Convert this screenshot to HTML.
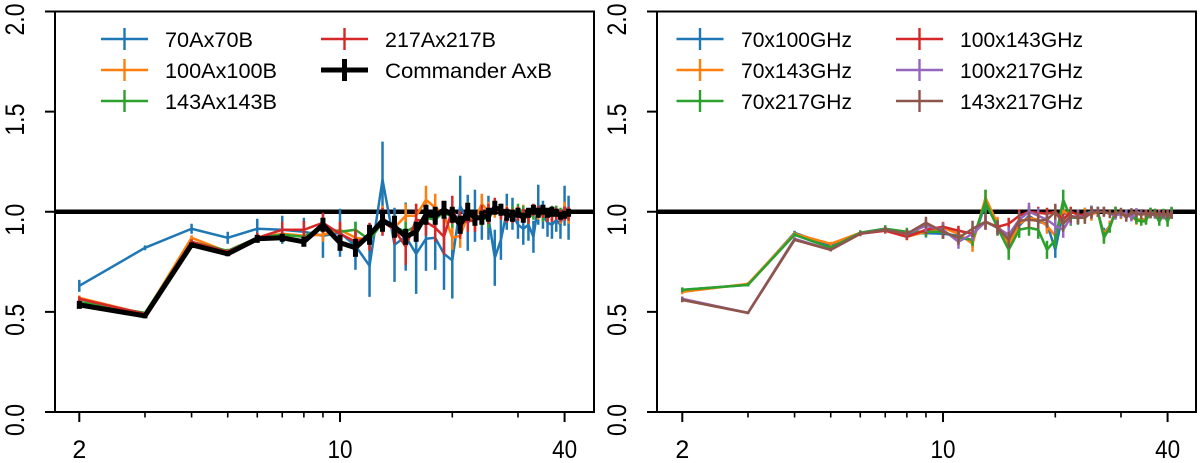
<!DOCTYPE html>
<html>
<head>
<meta charset="utf-8">
<style>
html,body{margin:0;padding:0;background:#fff;}
svg{display:block;}
text{font-family:"Liberation Sans",sans-serif;fill:#000;}
</style>
</head>
<body>
<svg id="chart" xmlns="http://www.w3.org/2000/svg" width="1200" height="463" viewBox="0 0 1200 463"></svg>
<script>
const multipoles = [2,3,4,5,6,7,8,9,10,11,12,13,14,15,16,17,18,19,20,21,22,23,24,25,26,27,28,29,30,31,32,33,34,35,36,37,38,39,40,41];
const yTicks = [0,0.5,1,1.5,2];
const yTickLabels = ["0.0","0.5","1.0","1.5","2.0"];
const xMajorTicks = [2,10,40];
const xMinorTicks = [3,4,5,6,7,8,9,20,30];
const referenceLevel = 1;

const auto70 = [.63,.82,.915,.87,.915,.91,.90,.88,.895,.83,.73,1.16,.835,.876,.79,.865,.87,.79,.757,1.03,.945,.98,.97,.97,.77,.86,1.0,.99,.935,.915,.935,.875,1.035,.985,.945,.935,.96,.935,1.03,.97];
const auto70Err = [.03,.012,.025,.03,.05,.07,.07,.11,.12,.12,.155,.19,.185,.17,.2,.16,.16,.18,.19,.15,.14,.13,.11,.11,.14,.1,.09,.08,.07,.08,.08,.08,.1,.07,.07,.07,.06,.07,.1,.11];
const auto100 = [.57,.49,.87,.80,.87,.89,.88,.885,.91,.87,.86,.97,.92,.98,.98,1.06,1.02,.99,.87,.88,.98,.96,1.04,1.0,1.01,1.0,.99,.98,.99,1.0,.97,1.0,.99,.98,.99,.98,1.0,.97,1.01,.98];
const auto100Err = [.012,.008,.012,.012,.02,.02,.025,.035,.04,.04,.05,.06,.06,.06,.06,.07,.07,.06,.06,.06,.06,.05,.05,.05,.04,.04,.04,.035,.035,.035,.03,.03,.03,.03,.03,.03,.03,.03,.04,.04];
const auto143 = [.55,.495,.85,.805,.87,.885,.875,.925,.90,.91,.86,.945,.925,.90,.93,.97,.96,1.0,.97,.94,1.0,.97,.97,.96,1.02,1.0,.98,1.0,1.01,1.0,.97,.99,1.0,.98,.98,1.0,1.0,.99,.99,.99];
const auto143Err = [.01,.007,.01,.01,.015,.02,.02,.03,.035,.04,.045,.05,.05,.05,.05,.05,.05,.05,.05,.05,.05,.04,.04,.04,.035,.035,.03,.03,.03,.03,.03,.03,.03,.03,.03,.03,.03,.03,.03,.03];
const auto217 = [.565,.49,.85,.80,.87,.91,.91,.945,.89,.85,.875,.95,.91,.825,.96,.95,.92,.875,1.01,.935,.96,.95,.985,.99,1.03,1.0,.985,.98,.99,.98,.97,1.01,1.0,1.0,.98,.98,.99,.98,.99,.99];
const auto217Err = [.012,.008,.012,.012,.025,.04,.045,.05,.06,.06,.07,.07,.07,.09,.08,.07,.07,.09,.07,.07,.06,.05,.05,.05,.04,.04,.04,.035,.035,.035,.03,.03,.03,.03,.03,.03,.03,.03,.035,.035];
const commander = [.535,.48,.835,.79,.865,.87,.85,.935,.845,.82,.885,.955,.925,.875,.90,.985,.98,1.01,.985,.935,1.0,.97,.97,.985,1.02,1.01,.985,.98,.995,.97,.995,1.01,.995,1.01,.995,1.0,.995,.98,.985,.995];
const commanderErr = [.02,.012,.012,.012,.02,.02,.025,.035,.04,.045,.05,.055,.055,.04,.05,.05,.045,.045,.04,.045,.045,.04,.035,.035,.035,.03,.03,.03,.025,.025,.025,.025,.025,.025,.025,.025,.02,.02,.02,.02];

const cross70x100 = [.61,.635,.895,.83,.895,.915,.89,.893,.89,.88,.85,1.04,.93,.86,.93,.98,.95,.94,.81,1.0,.97,.97,.99,1.0,1.0,.89,.93,1.0,.99,.985,.98,.965,.955,.96,1.0,.99,.965,.99,.97,1.0];
const cross70x100Err = [.012,.008,.01,.01,.012,.015,.018,.022,.025,.03,.03,.035,.035,.035,.04,.04,.04,.04,.04,.04,.035,.03,.03,.03,.025,.03,.025,.025,.022,.022,.02,.02,.02,.02,.02,.02,.02,.02,.02,.02];
const cross70x143 = [.60,.64,.89,.84,.895,.91,.875,.90,.92,.89,.84,1.07,.94,.83,.94,.97,.96,.93,.88,1.01,.97,.97,.99,.985,1.0,.88,.93,1.0,.985,.985,.98,.955,.965,.96,.995,.995,.96,.985,.965,.985];
const cross70x143Err = [.012,.008,.01,.01,.012,.015,.018,.022,.03,.03,.04,.04,.035,.035,.035,.04,.04,.04,.035,.04,.035,.03,.03,.03,.025,.03,.025,.025,.022,.022,.02,.02,.02,.02,.02,.02,.02,.02,.02,.02];
const cross70x217 = [.61,.635,.885,.82,.895,.915,.90,.90,.90,.87,.86,1.05,.92,.81,.91,.92,.91,.81,.86,1.06,.97,.97,.98,1.0,1.0,.87,.92,1.0,.99,.985,.98,.96,.95,.955,1.0,.99,.95,.99,.95,1.0];
const cross70x217Err = [.012,.008,.01,.01,.012,.018,.02,.025,.025,.03,.03,.06,.04,.05,.04,.04,.045,.045,.04,.05,.04,.035,.03,.03,.025,.03,.025,.025,.022,.022,.02,.02,.02,.02,.02,.025,.02,.025,.025,.025];
const cross100x143 = [.56,.495,.86,.81,.89,.905,.875,.91,.925,.905,.89,.95,.925,.94,.98,1.0,.995,.99,1.0,.96,1.0,.985,.985,.995,1.0,1.0,.99,.985,.995,.99,.975,1.0,.99,.995,.99,.985,.995,.985,.99,.985];
const cross100x143Err = [.01,.006,.008,.008,.01,.014,.016,.02,.022,.025,.025,.03,.03,.03,.03,.03,.03,.03,.03,.03,.025,.025,.022,.022,.02,.02,.02,.018,.018,.018,.016,.016,.016,.016,.016,.016,.016,.016,.02,.02];
const cross100x217 = [.565,.495,.865,.81,.89,.91,.89,.93,.91,.85,.89,.95,.92,.885,.96,1.0,.98,.96,.93,.91,.97,.98,.97,1.0,1.0,1.0,.99,.98,.99,.99,.97,1.0,.99,.99,.985,.985,.99,.98,.985,.985];
const cross100x217Err = [.012,.006,.008,.008,.012,.016,.022,.03,.035,.035,.035,.04,.035,.04,.04,.045,.04,.04,.04,.04,.035,.03,.03,.03,.025,.025,.022,.02,.02,.02,.018,.018,.018,.018,.018,.018,.018,.018,.02,.02];
const cross143x217 = [.56,.495,.86,.81,.89,.91,.89,.945,.90,.87,.915,.95,.92,.86,.955,.96,.955,.96,1.0,.94,.98,.97,.97,.995,1.0,1.0,.99,.99,1.0,.97,1.0,.99,.985,.99,.985,.99,.985,.99,.985,.985];
const cross143x217Err = [.012,.006,.008,.008,.012,.016,.022,.03,.035,.035,.04,.04,.035,.04,.04,.04,.04,.04,.04,.04,.035,.03,.03,.03,.025,.025,.022,.02,.02,.02,.018,.018,.018,.018,.018,.018,.018,.018,.02,.02];

const svg = document.getElementById('chart');
const NS = 'http://www.w3.org/2000/svg';
const Y_TOP = 11.5, Y_BOTTOM = 412, DECADE = 373;

function yScale(v){ return Y_BOTTOM - (v / 2) * (Y_BOTTOM - Y_TOP); }

function make(tag, attrs, parent, text){
  const el = document.createElementNS(NS, tag);
  for (const k in attrs) el.setAttribute(k, attrs[k]);
  if (text !== undefined) el.textContent = text;
  parent.appendChild(el);
  return el;
}

function drawPanel(panelName, left, right, x2, series, legendCols){
  const xScale = l => x2 + DECADE * Math.log10(l / 2);
  const g = make('g', {}, svg);
  
  

  // reference line
  const ref = make('line', {x1:left, x2:right, y1:yScale(referenceLevel), y2:yScale(referenceLevel), stroke:'#000', 'stroke-width':4.5}, g);
  
  

  // series
  series.forEach(s => {
    const sg = make('g', {fill:'none', stroke:s.color, 'stroke-width':s.width}, g);
    
    
    s.values.forEach((v, i) => {
      const x = xScale(multipoles[i]);
      const bar = make('line', {x1:x, x2:x, y1:yScale(v - s.errors[i]), y2:yScale(v + s.errors[i])}, sg);
      
      
    });
    const pts = s.values.map((v, i) => xScale(multipoles[i]).toFixed(2) + ',' + yScale(v).toFixed(2)).join(' ');
    const line = make('polyline', {points:pts, 'stroke-linejoin':'round'}, sg);
    
    
  });

  // frame
  const frame = make('rect', {x:left, y:Y_TOP, width:right-left, height:Y_BOTTOM-Y_TOP, fill:'none', stroke:'#000', 'stroke-width':2}, g);
  
  

  // y axis
  yTicks.forEach((t, i) => {
    const y = yScale(t);
    const tick = make('line', {x1:left-10, x2:left, y1:y, y2:y, stroke:'#000', 'stroke-width':2}, g);
    
    
    const bx = left - 31, by = y + 8;
    const lab = make('text', {x:bx, y:by, 'font-size':27, 'text-anchor':'middle', textLength:32, lengthAdjust:'spacingAndGlyphs', transform:'rotate(-90 '+bx+' '+by+')'}, g, yTickLabels[i]);
    
    
  });

  // x axis
  xMajorTicks.forEach(t => {
    const x = xScale(t);
    const tick = make('line', {x1:x, x2:x, y1:Y_BOTTOM, y2:Y_BOTTOM+10, stroke:'#000', 'stroke-width':2}, g);
    
    
    const attrs = {x:x, y:458, 'font-size':25, 'text-anchor':'middle'};
    if (String(t).length > 1) { attrs.textLength = 25; attrs.lengthAdjust = 'spacingAndGlyphs'; }
    const lab = make('text', attrs, g, String(t));
    
    
  });
  xMinorTicks.forEach(t => {
    const x = xScale(t);
    const tick = make('line', {x1:x, x2:x, y1:Y_BOTTOM, y2:Y_BOTTOM+5.5, stroke:'#000', 'stroke-width':1.6}, g);
    
    
  });

  // legend
  const lg = make('g', {}, g);
  
  
  legendCols.forEach(item => {
    const e = make('g', {}, lg);
    
    
    make('line', {x1:item.cx-23.5, x2:item.cx+23.5, y1:item.cy, y2:item.cy, stroke:item.color, 'stroke-width':item.w}, e);
    make('line', {x1:item.cx, x2:item.cx, y1:item.cy-11, y2:item.cy+11, stroke:item.color, 'stroke-width':item.w}, e);
    make('text', {x:item.tx, y:item.cy+8, 'font-size':21, textLength:item.tw, lengthAdjust:'spacingAndGlyphs'}, e, item.label);
  });
}

const C = {blue:'#1f77b4', orange:'#ff7f0e', green:'#2ca02c', red:'#d62728', purple:'#9467bd', brown:'#8c564b', black:'#000'};

drawPanel('left-panel', 55, 594, 79.3, [
  {key:'70a-70b', color:C.blue, width:2.5, values:auto70, errors:auto70Err},
  {key:'100a-100b', color:C.orange, width:2.5, values:auto100, errors:auto100Err},
  {key:'143a-143b', color:C.green, width:2.5, values:auto143, errors:auto143Err},
  {key:'217a-217b', color:C.red, width:2.5, values:auto217, errors:auto217Err},
  {key:'commander', color:C.black, width:5, values:commander, errors:commanderErr}
], [
  {cx:124.5, cy:39, tx:165, tw:88, color:C.blue, w:2.4, label:'70Ax70B'},
  {cx:124.5, cy:70, tx:165, tw:112, color:C.orange, w:2.4, label:'100Ax100B'},
  {cx:124.5, cy:101, tx:165, tw:112, color:C.green, w:2.4, label:'143Ax143B'},
  {cx:344.5, cy:39, tx:385, tw:111, color:C.red, w:2.4, label:'217Ax217B'},
  {cx:344.5, cy:70, tx:385, tw:167, color:C.black, w:5, label:'Commander AxB'}
]);

drawPanel('right-panel', 657, 1196, 682.3, [
  {key:'70x100', color:C.blue, width:2.5, values:cross70x100, errors:cross70x100Err},
  {key:'70x143', color:C.orange, width:2.5, values:cross70x143, errors:cross70x143Err},
  {key:'70x217', color:C.green, width:2.5, values:cross70x217, errors:cross70x217Err},
  {key:'100x143', color:C.red, width:2.5, values:cross100x143, errors:cross100x143Err},
  {key:'100x217', color:C.purple, width:2.5, values:cross100x217, errors:cross100x217Err},
  {key:'143x217', color:C.brown, width:2.5, values:cross143x217, errors:cross143x217Err}
], [
  {cx:700, cy:39, tx:741, tw:111, color:C.blue, w:2.4, label:'70x100GHz'},
  {cx:700, cy:70, tx:741, tw:111, color:C.orange, w:2.4, label:'70x143GHz'},
  {cx:700, cy:101, tx:741, tw:111, color:C.green, w:2.4, label:'70x217GHz'},
  {cx:919.5, cy:39, tx:960, tw:123, color:C.red, w:2.4, label:'100x143GHz'},
  {cx:919.5, cy:70, tx:960, tw:123, color:C.purple, w:2.4, label:'100x217GHz'},
  {cx:919.5, cy:101, tx:960, tw:123, color:C.brown, w:2.4, label:'143x217GHz'}
]);
</script>
</body>
</html>
